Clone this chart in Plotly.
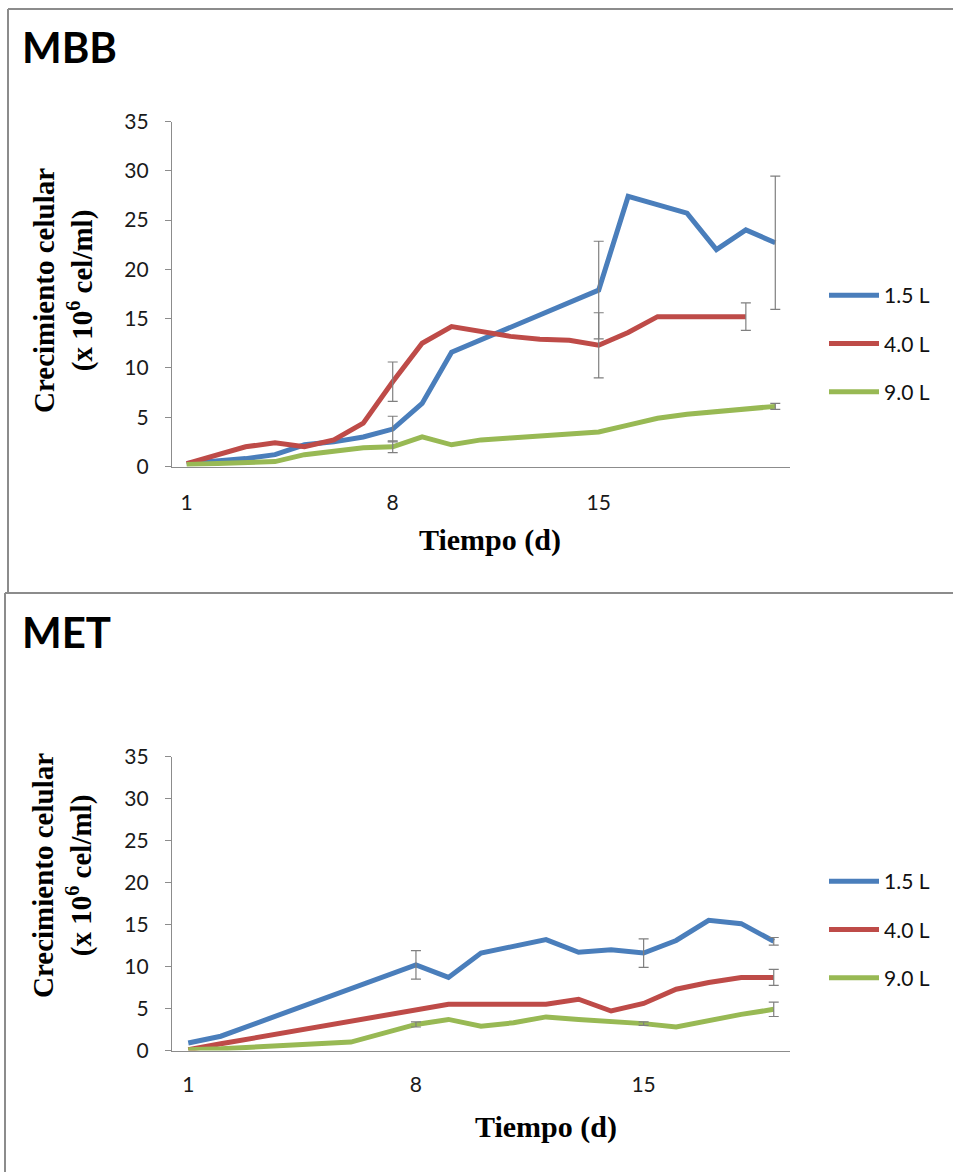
import plotly.graph_objects as go

# ---------------- data ----------------
days_mbb = list(range(1, 22))
mbb_15 = [0.3, 0.5, 0.8, 1.2, 2.2, 2.5, 3.0, 3.8, 6.4, 11.6, None, None, None, None,
          17.9, 27.4, 26.5, 25.7, 22.0, 24.0, 22.7]
mbb_40 = [0.3, 1.1, 2.0, 2.4, 2.0, 2.7, 4.4, 8.6, 12.5, 14.2, 13.7, 13.2, 12.9, 12.8,
          12.3, 13.6, 15.2, 15.2, 15.2, 15.2, None]
mbb_90 = [0.2, 0.3, 0.4, 0.5, 1.2, 1.6, 1.9, 2.0, 3.0, 2.2, 2.7, 2.9, 3.1, 3.3,
          3.5, 4.2, 4.9, 5.3, 5.6, 5.8, 6.1]
mbb_err_days_15 = [8, 15, 21]
mbb_err_15 = [1.3, 4.95, 6.75]
mbb_err_days_40 = [8, 15, 20]
mbb_err_40 = [2.0, 3.3, 1.4]
mbb_err_days_90 = [8, 21]
mbb_err_90 = [0.6, 0.3]

days_met = list(range(1, 20))
met_15 = [0.9, 1.7, None, None, None, None, None, 10.2, 8.7, 11.6, 12.4, 13.2, 11.7,
          12.0, 11.6, 13.1, 15.5, 15.1, 13.0]
met_40 = [0.1, 0.8, None, None, None, None, None, None, 5.5, None, None, 5.5, 6.1,
          4.7, 5.6, 7.3, 8.1, 8.7, 8.7]
met_90 = [0.1, 0.2, None, None, None, 1.0, None, 3.1, 3.7, 2.9, 3.3, 4.0, 3.7,
          3.5, 3.2, 2.8, 3.6, 4.3, 4.9]
met_err_days_15 = [8, 15, 19]
met_err_15 = [1.7, 1.7, 0.45]
met_err_days_40 = [19]
met_err_40 = [0.95]
met_err_days_90 = [8, 15, 19]
met_err_90 = [0.3, 0.2, 0.85]

series_names = ["1.5 L", "4.0 L", "9.0 L"]
colors = ["#4A7EBB", "#BE4B48", "#98B954"]
tick_vals = [1, 8, 15]
y_ticks = [0, 5, 10, 15, 20, 25, 30, 35]

W, H = 953, 1172

def py(p):
    return 1 - p / H

fig = go.Figure()

panels = [
    dict(days=days_mbb, series=[mbb_15, mbb_40, mbb_90],
         err=[(mbb_err_days_15, mbb_err_15), (mbb_err_days_40, mbb_err_40), (mbb_err_days_90, mbb_err_90)],
         xa="x", ya="y", legend="legend"),
    dict(days=days_met, series=[met_15, met_40, met_90],
         err=[(met_err_days_15, met_err_15), (met_err_days_40, met_err_40), (met_err_days_90, met_err_90)],
         xa="x2", ya="y2", legend="legend2"),
]

for p in panels:
    for i, s in enumerate(p["series"]):
        fig.add_trace(go.Scatter(
            x=p["days"], y=s, mode="lines", name=series_names[i],
            line=dict(color=colors[i], width=5), connectgaps=True,
            xaxis=p["xa"], yaxis=p["ya"], legend=p["legend"],
            legendgroup=p["legend"] + str(i), hoverinfo="skip"))
    for i, s in enumerate(p["series"]):
        ed, ev = p["err"][i]
        yv = [s[p["days"].index(d)] for d in ed]
        fig.add_trace(go.Scatter(
            x=ed, y=yv, mode="markers", marker=dict(size=1, opacity=0),
            error_y=dict(type="data", array=ev, color="#7F7F7F", thickness=1.2, width=5),
            xaxis=p["xa"], yaxis=p["ya"], showlegend=False, hoverinfo="skip"))

axis_common = dict(showgrid=False, zeroline=False, showline=True, linecolor="#8C8C8C",
                   linewidth=1.2, automargin=False,
                   tickfont=dict(family="Lato", size=21, color="#1a1a1a"))
xdom = [172 / W, 790 / W]

fig.update_layout(
    width=W, height=H, margin=dict(l=0, r=0, t=0, b=0, pad=0, autoexpand=False),
    paper_bgcolor="white", plot_bgcolor="white", showlegend=True,
    xaxis=dict(domain=xdom, range=[0.5, 21.5], tickvals=tick_vals, ticks="",
               ticklabelstandoff=17, anchor="y", **axis_common),
    yaxis=dict(domain=[py(466.5), py(121.5)], range=[0, 35], tickvals=y_ticks,
               ticks="outside", ticklen=6, tickcolor="#8C8C8C", ticklabelstandoff=12,
               anchor="x", **axis_common),
    xaxis2=dict(domain=xdom, range=[0.5, 19.5], tickvals=tick_vals, ticks="",
                ticklabelstandoff=15, anchor="y2", **axis_common),
    yaxis2=dict(domain=[py(1050.5), py(756.5)], range=[0, 35], tickvals=y_ticks,
                ticks="outside", ticklen=6, tickcolor="#8C8C8C", ticklabelstandoff=12,
                anchor="x2", **axis_common),
    legend=dict(x=824 / W, y=py(275), xanchor="left", yanchor="top",
                font=dict(family="Lato", size=21, color="#111"), tracegroupgap=18,
                bgcolor="rgba(0,0,0,0)", itemwidth=50),
    legend2=dict(x=824 / W, y=py(861), xanchor="left", yanchor="top",
                 font=dict(family="Lato", size=21, color="#111"), tracegroupgap=18,
                 bgcolor="rgba(0,0,0,0)", itemwidth=50),
)

title_font = dict(family="Liberation Serif", size=29, color="black")
ann = [
    dict(text="<b>MBB</b>", x=20 / W, y=py(47), xanchor="left", yanchor="middle",
         font=dict(family="Lato", size=42, color="black")),
    dict(text="<b>MET</b>", x=20 / W, y=py(632), xanchor="left", yanchor="middle",
         font=dict(family="Lato", size=42, color="black")),
    dict(text="<b>Crecimiento celular<br>(x 10<sup>6</sup> cel/ml)</b>", x=64 / W, y=py(291),
         textangle=-90, xanchor="center", yanchor="middle", font=title_font),
    dict(text="<b>Crecimiento celular<br>(x 10<sup>6</sup> cel/ml)</b>", x=62 / W, y=py(876),
         textangle=-90, xanchor="center", yanchor="middle", font=title_font),
    dict(text="<b>Tiempo (d)</b>", x=490 / W, y=py(540), xanchor="center", yanchor="middle",
         font=dict(family="Liberation Serif", size=30, color="black")),
    dict(text="<b>Tiempo (d)</b>", x=546 / W, y=py(1127), xanchor="center", yanchor="middle",
         font=dict(family="Liberation Serif", size=30, color="black")),
]
for a in ann:
    a.update(xref="paper", yref="paper", showarrow=False)
fig.update_layout(annotations=ann)

frame = dict(color="#8C8C8C", width=2)
shapes = [
    dict(type="line", x0=8 / W, x1=1, y0=py(9), y1=py(9)),
    dict(type="line", x0=8 / W, x1=8 / W, y0=py(9), y1=py(593)),
    dict(type="line", x0=5 / W, x1=1, y0=py(593), y1=py(593)),
    dict(type="line", x0=5 / W, x1=5 / W, y0=py(593), y1=0),
]
for s in shapes:
    s.update(xref="paper", yref="paper", line=frame)
fig.update_layout(shapes=shapes)

fig.write_html("out.html", config={"responsive": False, "displayModeBar": False},
               include_plotlyjs=True, full_html=True,
               default_width="953px", default_height="1172px",
               post_script="document.body.style.margin='0';document.body.style.overflow='hidden';")
